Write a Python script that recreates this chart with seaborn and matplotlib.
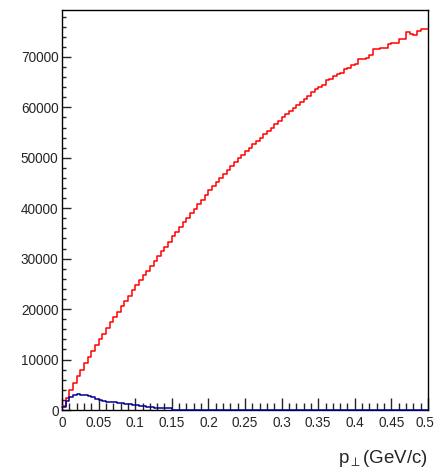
import numpy as np
import pandas as pd
import matplotlib
matplotlib.use("Agg")
import matplotlib.pyplot as plt
import matplotlib.transforms as mtransforms
import seaborn as sns
from matplotlib.ticker import MultipleLocator

# ---- data ----
bin_width = 0.005
n_bins = 100
red_counts = [
    700, 2300, 3900, 5300, 6700, 8000, 9300, 10500, 11700, 12900,
    14000, 15100, 16300, 17400, 18500, 19500, 20600, 21600, 22600, 23700,
    24700, 25700, 26700, 27600, 28600, 29600, 30500, 31500, 32400, 33400,
    34400, 35300, 36300, 37200, 38100, 39000, 39900, 40800, 41700, 42600,
    43600, 44400, 45200, 46000, 46800, 47600, 48400, 49100, 49900, 50600,
    51300, 52000, 52700, 53300, 54000, 54700, 55300, 56000, 56700, 57300,
    58000, 58600, 59300, 59900, 60500, 61100, 61700, 62300, 63000, 63600,
    64000, 64500, 65500, 65700, 66200, 66700, 66800, 67600, 67800, 68400,
    68600, 69500, 69600, 69700, 70400, 71500, 71600, 71700, 71700, 72600,
    72700, 72800, 73500, 73600, 74900, 74500, 74400, 75100, 75500, 75600,
]
blue_counts = [
    650, 1800, 2600, 3000, 3150, 3000, 2900, 2800, 2500, 2200,
    1900, 1700, 1600, 1500, 1500, 1400, 1300, 1250, 1150, 1050,
    950, 800, 700, 600, 500, 420, 380, 350, 340, 330,
] + [0] * 70
y_ticks = [0, 10000, 20000, 30000, 40000, 50000, 60000, 70000]
x_ticks = [0, 0.05, 0.1, 0.15, 0.2, 0.25, 0.3, 0.35, 0.4, 0.45, 0.5]
x_tick_labels = ["0", "0.05", "0.1", "0.15", "0.2", "0.25", "0.3", "0.35", "0.4", "0.45", "0.5"]
x_label = r"p$_{\perp}$(GeV/c)"

bin_edges = [i * bin_width for i in range(n_bins + 1)]
bin_centers = [(i + 0.5) * bin_width for i in range(n_bins)]
df_red = pd.DataFrame({"pt": bin_centers, "count": red_counts})
df_blue = pd.DataFrame({"pt": bin_centers, "count": blue_counts})

# ---- plot ----
sns.set_style("ticks")
plt.rcParams["font.family"] = ["Liberation Sans", "DejaVu Sans"]
plt.rcParams["mathtext.fontset"] = "custom"
plt.rcParams["mathtext.rm"] = "Liberation Sans"
plt.rcParams["mathtext.it"] = "Liberation Sans"

fig = plt.figure(figsize=(4.36, 4.73), dpi=100)
ax = fig.add_axes([62 / 436, 1 - 410 / 473, 366 / 436, 400 / 473])

sns.histplot(data=df_red, x="pt", weights="count", bins=bin_edges, element="step",
             fill=False, color="#ff0000", linewidth=1.1, ax=ax, zorder=3)
sns.histplot(data=df_blue, x="pt", weights="count", bins=bin_edges, element="step",
             fill=False, color="#000099", linewidth=1.1, ax=ax, zorder=3, clip_on=False)

ax.set_xlim(0, 0.5)
ax.set_ylim(0, 79300)
ax.set_xticks(x_ticks)
ax.set_xticklabels(x_tick_labels)
ax.set_yticks(y_ticks)
ax.set_yticklabels([str(v) for v in y_ticks])
ax.xaxis.set_minor_locator(MultipleLocator(0.01))
ax.yaxis.set_minor_locator(MultipleLocator(2000))

ax.tick_params(axis="x", which="major", direction="in", length=9, width=1,
               labelsize=9.8, pad=4.5, top=False)
ax.tick_params(axis="x", which="minor", direction="in", length=5, width=1, top=False)
ax.tick_params(axis="y", which="major", direction="in", length=6.5, width=1,
               labelsize=9.8, pad=2.5, right=False)
ax.tick_params(axis="y", which="minor", direction="in", length=3, width=1, right=False)

# nudge the last x label left so it stays inside the figure
last = ax.get_xticklabels()[-1]
last.set_transform(last.get_transform() +
                   mtransforms.ScaledTranslation(-3 / 100, 0, fig.dpi_scale_trans))

for s in ax.spines.values():
    s.set_visible(True)
    s.set_linewidth(1.0)
    s.set_color("black")
    s.set_zorder(2.5)

ax.set_ylabel("")
ax.set_xlabel("")
fig.text(428 / 436, 1 - 463 / 473, x_label, ha="right", va="baseline", fontsize=13.5)

fig.savefig("out.png", dpi=100)
